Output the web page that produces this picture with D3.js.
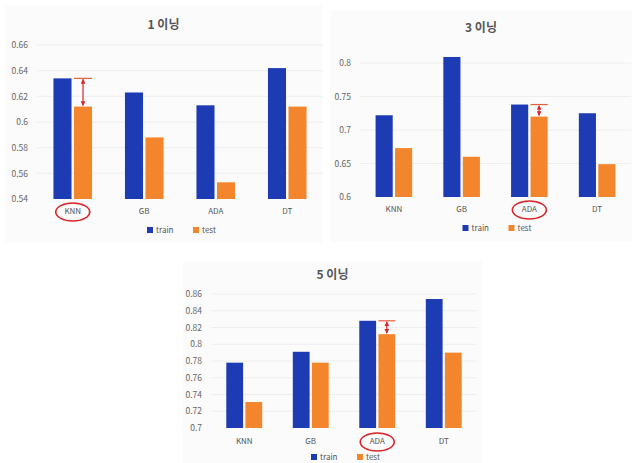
<!DOCTYPE html>
<html><head><meta charset="utf-8">
<script src="https://cdn.jsdelivr.net/npm/d3@7"></script>
<style>body{margin:0;background:#fff}svg{display:block}text{font-family:"Noto Sans CJK KR","Open Sans",sans-serif}</style>
</head><body>
<svg id="c" width="632" height="463"></svg>
<script>
const categories = ["KNN", "GB", "ADA", "DT"];
const seriesNames = ["train", "test"];
const titles = ["1 이닝", "3 이닝", "5 이닝"];
const train1 = [0.634, 0.623, 0.613, 0.642];
const test1  = [0.612, 0.588, 0.553, 0.612];
const train3 = [0.722, 0.809, 0.738, 0.725];
const test3  = [0.673, 0.660, 0.720, 0.649];
const train5 = [0.778, 0.791, 0.828, 0.854];
const test5  = [0.731, 0.778, 0.812, 0.790];
const ticks1 = [0.54, 0.56, 0.58, 0.60, 0.62, 0.64, 0.66];
const ticks3 = [0.60, 0.65, 0.70, 0.75, 0.80];
const ticks5 = [0.70, 0.72, 0.74, 0.76, 0.78, 0.80, 0.82, 0.84, 0.86];
const highlighted = ["KNN", "ADA", "ADA"];

const colors = {train: "#1d3bb3", test: "#f3852c"};
const svg = d3.select("#c");
const defs = svg.append("defs");
defs.append("marker").attr("id", "arr").attr("viewBox", "0 0 10 10").attr("refX", 9).attr("refY", 5)
  .attr("markerWidth", 4).attr("markerHeight", 4).attr("orient", "auto-start-reverse")
  .append("path").attr("d", "M0,0L10,5L0,10z").attr("fill", "#d9262a");

const layouts = [
  {panel: [5, 5, 317, 238], x: [37, 323], y: [199, 45], titleY: 25, labelY: 212, legendY: 230, dashed: false},
  {panel: [330, 10, 302, 232], x: [360, 631], y: [197, 63], titleY: 28, labelY: 210, legendY: 228, dashed: true},
  {panel: [183, 261, 299, 202], x: [211, 477], y: [428, 294], titleY: 275, labelY: 442, legendY: 457, dashed: false}
];
const datasets = [
  {train: train1, test: test1, ticks: ticks1},
  {train: train3, test: test3, ticks: ticks3},
  {train: train5, test: test5, ticks: ticks5}
];

datasets.forEach((ds, i) => {
  const L = layouts[i];
  const g = svg.append("g");
  g.append("rect").attr("x", L.panel[0]).attr("y", L.panel[1]).attr("width", L.panel[2]).attr("height", L.panel[3])
    .attr("fill", "#fbfbfb");
  const tk = ds.ticks;
  const y = d3.scaleLinear().domain([tk[0], tk[tk.length - 1]]).range(L.y);
  const x0 = d3.scaleBand().domain(categories).range(L.x).paddingInner(0.46).paddingOuter(0.23);
  const x1 = d3.scaleBand().domain(seriesNames).range([0, x0.bandwidth()]).paddingInner(0.12);

  // gridlines
  g.append("g").selectAll("line").data(tk.slice(1)).join("line")
    .attr("x1", L.x[0]).attr("x2", L.x[1]).attr("y1", d => y(d)).attr("y2", d => y(d))
    .attr("stroke", "#eeeeee").attr("stroke-width", 1);

  // y axis
  const ya = g.append("g").attr("transform", `translate(${L.x[0]},0)`)
    .call(d3.axisLeft(y).tickValues(tk).tickSize(0).tickPadding(9).tickFormat(d => String(+d.toFixed(2))));
  ya.select(".domain").remove();
  ya.selectAll("text").attr("fill", "#666").style("font-size", "8.5px");

  // x axis labels
  const xa = g.append("g").attr("transform", `translate(0,${L.labelY - 4})`)
    .call(d3.axisBottom(x0).tickSize(0).tickPadding(0));
  xa.select(".domain").remove();
  xa.selectAll("text").attr("fill", "#555").style("font-size", "8px").attr("dy", "0.3em").attr("y", 4);

  // bars
  const rows = categories.map((c, j) => ({cat: c, train: ds.train[j], test: ds.test[j]}));
  const base = tk[0];
  g.append("g").selectAll("g").data(rows).join("g")
    .attr("transform", d => `translate(${x0(d.cat)},0)`)
    .selectAll("rect").data(d => seriesNames.map(s => ({s, v: d[s]}))).join("rect")
    .attr("x", d => x1(d.s)).attr("width", x1.bandwidth())
    .attr("y", d => y(d.v)).attr("height", d => y(base) - y(d.v))
    .attr("fill", d => colors[d.s]);

  // highlight: ellipse and gap marker
  const hc = highlighted[i];
  const j = categories.indexOf(hc);
  const cx = x0(hc) + x0.bandwidth() / 2;
  g.append("ellipse").attr("cx", cx).attr("cy", L.labelY).attr("rx", 17).attr("ry", 9)
    .attr("fill", "none").attr("stroke", "#d9262a").attr("stroke-width", 1.6);
  const tx = x0(hc) + x1("test") + x1.bandwidth() / 2;
  g.append("line").attr("x1", x0(hc) + x1("test")).attr("x2", x0(hc) + x1("test") + x1.bandwidth())
    .attr("y1", y(ds.train[j])).attr("y2", y(ds.train[j]))
    .attr("stroke", "#e8603a").attr("stroke-width", 1.2);
  g.append("line").attr("x1", tx).attr("x2", tx)
    .attr("y1", y(ds.test[j]) - 1).attr("y2", y(ds.train[j]) + 1)
    .attr("stroke", "#d9262a").attr("stroke-width", 1.2)
    .attr("stroke-dasharray", L.dashed ? "2,1.5" : null)
    .attr("marker-start", "url(#arr)").attr("marker-end", "url(#arr)");

  // title
  g.append("text").attr("x", L.panel[0] + L.panel[2] / 2).attr("y", L.titleY).attr("text-anchor", "middle")
    .attr("dy", "0.35em").attr("fill", "#555").style("font-size", "12px").style("font-weight", "bold").text(titles[i]);

  // legend
  const lc = (L.x[0] + L.x[1]) / 2;
  const lg = g.append("g").attr("transform", `translate(${lc - 33},${L.legendY})`);
  seriesNames.forEach((s, k) => {
    const it = lg.append("g").attr("transform", `translate(${k * 46},0)`);
    it.append("rect").attr("x", 0).attr("y", -3).attr("width", 6).attr("height", 6).attr("fill", colors[s]);
    it.append("text").attr("x", 9).attr("y", 0).attr("dy", "0.35em").attr("fill", "#555").style("font-size", "8px").text(s);
  });
});
</script>
</body></html>
